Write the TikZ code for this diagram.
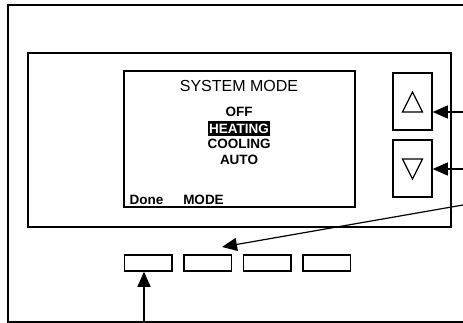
\documentclass[tikz,border=0pt]{standalone}
\usepackage{fontspec}
\setmainfont{Liberation Sans}
\usetikzlibrary{arrows.meta,positioning}

\begin{document}
\begin{tikzpicture}[x=1pt,y=-1pt,>={Triangle[length=15pt,width=13pt]},
  softkey/.style={draw,line width=1.5pt,minimum width=47.5pt,minimum height=16pt,inner sep=0},
  arrowbtn/.style={draw,line width=1.5pt,minimum width=39pt,minimum height=57pt,inner sep=0},
  optlabel/.style={font=\fontsize{13.5}{16}\bfseries,inner xsep=1.2pt,inner ysep=0,text height=9.7pt,text depth=0pt,minimum height=15pt},
  pointer/.style={->,line width=1.2pt}]
\useasboundingbox (0,0) rectangle (463,323);
\draw[line width=2pt] (463,5) -- (8,5) -- (8,322) -- (463,322);
\node[draw,line width=1.5pt,minimum width=423pt,minimum height=174pt,inner sep=0] (panel) at (239.5,140) {};
\node[draw,line width=1.5pt,minimum width=231pt,minimum height=136pt,inner sep=0] (display) at (239.5,139) {};
\node[font=\fontsize{16}{19}\selectfont,inner sep=0,text height=11.3pt,text depth=0pt] (title) at (239,86.3) {SYSTEM MODE};
\node[optlabel] (off) at (239,112) {OFF};
\node[optlabel,fill=black,text=white] (heating) at (239,128.5) {HEATING};
\node[optlabel] (cooling) at (239,144) {COOLING};
\node[optlabel] (auto) at (239,160) {AUTO};
\node[optlabel] (done) at (146.5,199.5) {Done};
\node[optlabel] (mode) at (203.5,199.5) {MODE};
% up / down buttons
\node[arrowbtn] (up) at (412.5,101.5) {};
\node[arrowbtn] (down) at (412.5,168.5) {};
\draw[line width=1.2pt,line join=miter] ([shift={(0,-9.5)}]up.center) -- ([shift={(-10,10.5)}]up.center) -- ([shift={(10,10.5)}]up.center) -- cycle;
\draw[line width=1.2pt,line join=miter] ([shift={(-10,-9.5)}]down.center) -- ([shift={(10,-9.5)}]down.center) -- ([shift={(0,10.5)}]down.center) -- cycle;
% soft keys
\node[softkey] (key1) at (148,263) {};
\node[softkey,right=10.5pt of key1] (key2) {};
\node[softkey,right=10.5pt of key2] (key3) {};
\node[softkey,right=10.5pt of key3] (key4) {};
% pointers
\coordinate (upin) at (463,112);
\coordinate (downin) at (463,169);
\coordinate (keyin) at (463,205);
\coordinate (keytip) at (222,247);
\coordinate (donein) at (144,322);
\draw[pointer] (upin) -- (upin -| up.east);
\draw[pointer] (downin) -- (downin -| down.east);
\draw[pointer] (keyin) -- (keytip);
\draw[pointer] (donein) -- (donein |- key1.south);
\end{tikzpicture}
\end{document}
